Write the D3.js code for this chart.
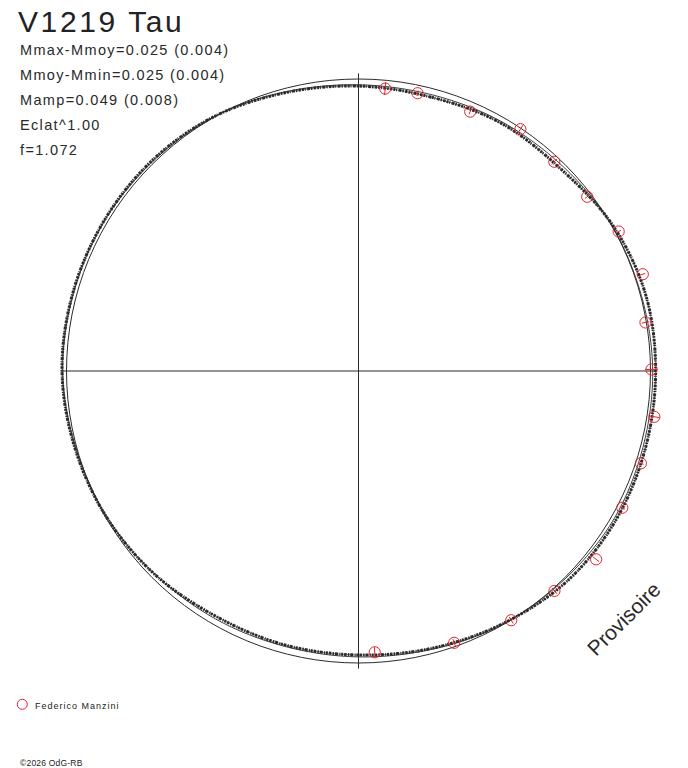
<!DOCTYPE html>
<html>
<head>
<meta charset="utf-8">
<script src="https://cdn.jsdelivr.net/npm/d3@7"></script>
<style>
  html, body { margin: 0; padding: 0; background: #fff; }
  svg { display: block; font-family: "Liberation Sans", Arial, sans-serif; }
</style>
</head>
<body>
<svg id="chart" width="688" height="768"></svg>
<script>
// ---- data ----
const title = "V1219 Tau";
const infoLines = [
  "Mmax-Mmoy=0.025 (0.004)",
  "Mmoy-Mmin=0.025 (0.004)",
  "Mamp=0.049 (0.008)",
  "Eclat^1.00",
  "f=1.072"
];
// light-curve band: phase angle (deg, clockwise from top) and brightness deviation (mag)
const bandAngles = [0, 15, 30, 45, 60, 75, 90, 105, 120, 135, 150, 165,
                    180, 195, 210, 225, 240, 255, 270, 285, 300, 315, 330, 345];
const bandValues = [-0.022, -0.027, -0.019, -0.019, 0.003, 0.016, 0.016, 0.016, 0.017, 0.013, -0.003, -0.016,
                    -0.025, -0.026, -0.026, -0.013, -0.002, 0.006, 0.014, 0.013, 0.011, 0.009, 0.002, -0.013];
// smoothed fit curve
const fitAngles = [0, 30, 60, 90, 120, 150, 180, 210, 240, 270, 300, 330];
const fitValues = [-0.018, -0.014, 0.000, 0.007, 0.010, -0.002, -0.019, -0.018, -0.004, 0.012, 0.010, 0.002];
// observations (Federico Manzini)
const obsAngles = [5.4, 12.0, 23.3, 33.8, 43.1, 52.7, 61.8, 71.2, 80.4, 89.7, 98.8, 108.1,
                   117.4, 128.4, 138.3, 148.5, 160.6, 176.7];
const obsValues = [-0.026, -0.025, -0.030, -0.003, -0.017, -0.014, 0.010, 0.026, -0.003, 0.003, 0.023, 0.016,
                   0.016, 0.035, 0.008, 0.001, -0.012, -0.032];
const obsErrors = [0.020, 0.009, 0.009, 0.017, 0.012, 0.009, 0.008, 0.008, 0.012, 0.019, 0.016, 0.009,
                   0.009, 0.012, 0.012, 0.012, 0.012, 0.016];
const observer = "Federico Manzini";
const watermark = "Provisoire";
const copyright = "\u00A92026 OdG-RB";

// ---- drawing ----
const svg = d3.select("#chart");
const cx = 358.5, cy = 371;
const angle = d3.scaleLinear().domain([0, 360]).range([0, 2 * Math.PI]);
const radius = d3.scaleLinear().domain([-0.05, 0.05]).range([276, 308]);
const red = "#e3232c";
const ink = "#2b2b2b";

const g = svg.append("g").attr("transform", `translate(${cx},${cy})`);

// axes
const axisR = radius(d3.max(bandValues)) + 0.2;
g.append("line").attr("x1", -axisR).attr("x2", axisR).attr("y1", 0).attr("y2", 0)
  .attr("stroke", ink).attr("stroke-width", 1);
g.append("line").attr("x1", 0).attr("x2", 0).attr("y1", -axisR).attr("y2", axisR)
  .attr("stroke", ink).attr("stroke-width", 1);

// mean circle
g.append("circle").attr("r", radius(0)).attr("fill", "none")
  .attr("stroke", ink).attr("stroke-width", 1);

const radial = d3.lineRadial()
  .angle(d => angle(d[0]))
  .radius(d => radius(d[1]))
  .curve(d3.curveCatmullRomClosed);

const band = bandAngles.map((a, i) => [a, bandValues[i]]);
const fit = fitAngles.map((a, i) => [a, fitValues[i]]);

// hatched band
g.append("path").attr("d", radial(band)).attr("fill", "none")
  .attr("stroke", ink).attr("stroke-width", 3)
  .attr("stroke-dasharray", "2 0.8 1 1.4 3 0.9 1.5 1.2 2.5 1");
g.append("path").attr("d", radial(band)).attr("fill", "none")
  .attr("stroke", ink).attr("stroke-width", 0.6);
// fit line
g.append("path").attr("d", radial(fit)).attr("fill", "none")
  .attr("stroke", ink).attr("stroke-width", 0.9);

// observations
const pos = (a, v) => {
  const t = angle(a), r = radius(v);
  return [r * Math.sin(t), -r * Math.cos(t)];
};
const obs = g.append("g");
obsAngles.forEach((a, i) => {
  const v = obsValues[i], e = obsErrors[i];
  const p0 = pos(a, v - e), p1 = pos(a, v + e), p = pos(a, v);
  obs.append("line").attr("x1", p0[0]).attr("y1", p0[1]).attr("x2", p1[0]).attr("y2", p1[1])
    .attr("stroke", red).attr("stroke-width", 1);
  obs.append("circle").attr("cx", p[0]).attr("cy", p[1]).attr("r", 5.6)
    .attr("fill", "none").attr("stroke", red).attr("stroke-width", 1);
});

// texts
svg.append("text").attr("x", 18).attr("y", 32).text(title)
  .attr("font-size", 30).attr("letter-spacing", 2.6).attr("fill", "#222");
svg.append("g").selectAll("text").data(infoLines).join("text")
  .attr("x", 20).attr("y", (d, i) => 55 + 25 * i).text(d => d)
  .attr("font-size", 14.5).attr("letter-spacing", 1.35).attr("fill", "#2a2a2a");

svg.append("text").text(watermark)
  .attr("transform", "translate(596,657) rotate(-45)")
  .attr("font-size", 21).attr("fill", "#2a2a2a");

// legend
svg.append("circle").attr("cx", 22.3).attr("cy", 704.3).attr("r", 5)
  .attr("fill", "none").attr("stroke", red).attr("stroke-width", 1);
svg.append("text").attr("x", 35).attr("y", 709).text(observer)
  .attr("font-size", 9).attr("letter-spacing", 1).attr("fill", "#222");
svg.append("text").attr("x", 20).attr("y", 766).text(copyright)
  .attr("font-size", 8.5).attr("letter-spacing", 0.2).attr("fill", "#222");
</script>
</body>
</html>
